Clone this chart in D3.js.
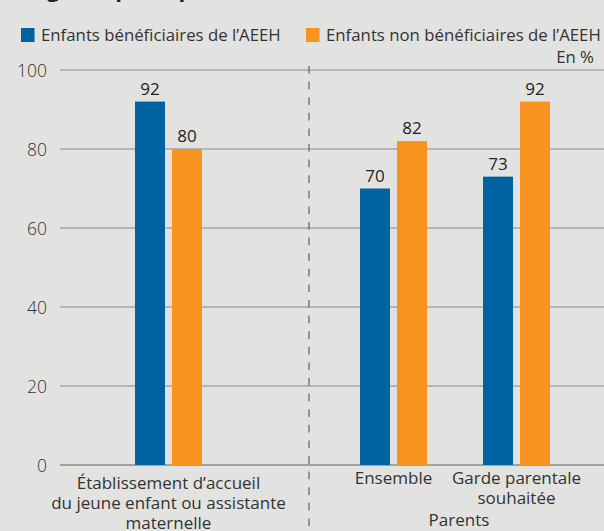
<!DOCTYPE html>
<html>
<head>
<meta charset="utf-8">
<script src="https://cdn.jsdelivr.net/npm/d3@7"></script>
<style>
  html, body { margin: 0; padding: 0; background: #e2e2e0; }
  svg { display: block; }
  text { font-family: "Open Sans", "Noto Sans", sans-serif; }
</style>
</head>
<body>
<svg id="chart" width="604" height="531"></svg>
<script>
// ---- data ----
const categories = ["etab", "ensemble", "garde"];
const categoryLabels = [
  ["Établissement d’accueil", "du jeune enfant ou assistante", "maternelle"],
  ["Ensemble"],
  ["Garde parentale", "souhaitée"]
];
const seriesNames = ["Enfants bénéficiaires de l’AEEH", "Enfants non bénéficiaires de l’AEEH"];
const beneficiaires = [92, 70, 73];
const nonBeneficiaires = [80, 82, 92];
const yTicks = [0, 20, 40, 60, 80, 100];
const sectionLabel = "Parents";
const unitLabel = "En %";
const titleText = "Mode de garde principal";

// ---- layout ----
const W = 604, H = 531;
const colors = ["#0062a0", "#f7931e"];
const svg = d3.select("#chart");
svg.append("rect").attr("width", W).attr("height", H).attr("fill", "#e2e2e0");

const y = d3.scaleLinear().domain([0, 100]).range([465, 70]);
const x0 = d3.scaleOrdinal().domain(categories).range([168.5, 393.5, 516.5]);
const x1 = d3.scaleBand().domain(seriesNames).range([-33.5, 33.5]).paddingInner(7 / 37);
const color = d3.scaleOrdinal().domain(seriesNames).range(colors);

// cut-off title at the top
const title = svg.append("text")
  .attr("y", -3.5)
  .attr("font-size", 22).attr("font-weight", 700).attr("fill", "#222")
  .text(titleText);
const prefixW = title.node().getSubStringLength(0, titleText.indexOf("garde"));
title.attr("x", 47 - prefixW);

// gridlines
svg.append("g").selectAll("line").data(yTicks).join("line")
  .attr("x1", 60).attr("x2", W)
  .attr("y1", d => y(d)).attr("y2", d => y(d))
  .attr("stroke", d => d === 0 ? "#8c8c8c" : "#a6a6a6")
  .attr("stroke-width", d => d === 0 ? 1.5 : 1.3);

// y axis labels
const yAxis = d3.axisLeft(y).tickValues(yTicks).tickSize(0).tickPadding(0);
const gy = svg.append("g").attr("transform", "translate(47,0)").call(yAxis);
gy.select(".domain").remove();
gy.selectAll("text")
  .attr("font-family", "\"Open Sans\", sans-serif")
  .attr("font-size", 17.5).attr("font-weight", 300).attr("fill", "#333")
  .attr("dy", "0.35em");

// dashed separator
svg.append("line")
  .attr("x1", 309).attr("x2", 309).attr("y1", 66).attr("y2", H)
  .attr("stroke", "#7a7a7a").attr("stroke-width", 1.5)
  .attr("stroke-dasharray", "7.7,7.9");

// bars
const rows = categories.map((c, i) => ({
  cat: c,
  values: [
    { s: seriesNames[0], v: beneficiaires[i] },
    { s: seriesNames[1], v: nonBeneficiaires[i] }
  ]
}));
const groups = svg.append("g").selectAll("g").data(rows).join("g")
  .attr("transform", d => `translate(${x0(d.cat)},0)`);
groups.selectAll("rect").data(d => d.values).join("rect")
  .attr("x", d => x1(d.s)).attr("width", x1.bandwidth())
  .attr("y", d => y(d.v)).attr("height", d => y(0) - y(d.v))
  .attr("fill", d => color(d.s));
groups.selectAll("text.val").data(d => d.values).join("text")
  .attr("class", "val")
  .attr("x", d => x1(d.s) + x1.bandwidth() / 2)
  .attr("y", d => y(d.v) - 7)
  .attr("text-anchor", "middle")
  .attr("font-size", 17).attr("font-weight", 500).attr("fill", "#222")
  .text(d => d.v);

// category labels
const labelTop = [488.5, 484, 484];
categories.forEach((c, i) => {
  const t = svg.append("text")
    .attr("text-anchor", "middle")
    .attr("font-size", 17).attr("font-weight", 400).attr("fill", "#333");
  categoryLabels[i].forEach((line, j) => {
    t.append("tspan").attr("x", x0(c)).attr("y", labelTop[i] + j * 20).text(line);
  });
});

// section label
svg.append("text")
  .attr("x", (x0("ensemble") + x0("garde")) / 2 + 4).attr("y", 526)
  .attr("text-anchor", "middle")
  .attr("font-size", 17).attr("font-weight", 400).attr("fill", "#333")
  .text(sectionLabel);

// unit
svg.append("text")
  .attr("x", 594).attr("y", 63).attr("text-anchor", "end")
  .attr("font-size", 16.8).attr("font-weight", 400).attr("fill", "#333")
  .text(unitLabel);

// legend
const legendX = [21, 306];
seriesNames.forEach((s, i) => {
  svg.append("rect").attr("x", legendX[i]).attr("y", 28)
    .attr("width", 13.5).attr("height", 14).attr("fill", color(s));
  svg.append("text").attr("x", legendX[i] + 20).attr("y", 41)
    .attr("font-size", 16.8).attr("font-weight", 400).attr("fill", "#333")
    .text(s);
});
</script>
</body>
</html>
